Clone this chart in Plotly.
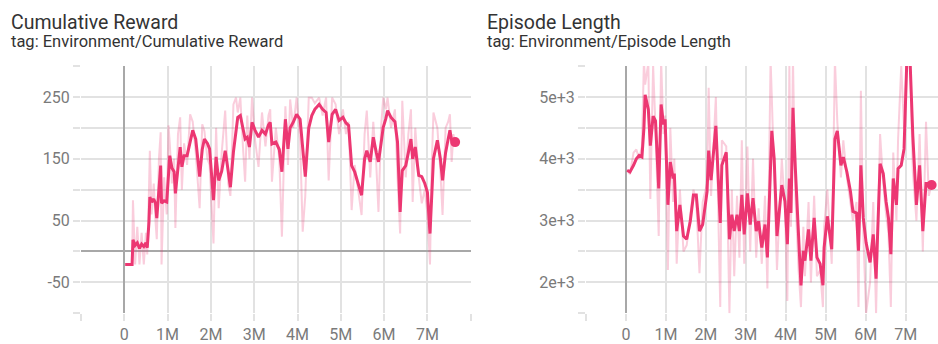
import plotly.graph_objects as go

# ---------------- data (steps in millions) ----------------
reward_steps = [0.02, 0.10, 0.18, 0.20, 0.25, 0.30, 0.35, 0.40, 0.45, 0.50, 0.53, 0.57, 0.59, 0.63, 0.68,
                0.72, 0.75, 0.80, 0.84, 0.86, 0.92, 0.98, 1.02, 1.05, 1.10, 1.15, 1.18, 1.24, 1.29, 1.33,
                1.38, 1.45, 1.52, 1.58, 1.65, 1.74, 1.80, 1.85, 1.92, 1.97, 2.02, 2.06, 2.12, 2.18, 2.25,
                2.33, 2.40, 2.45, 2.52, 2.58, 2.62, 2.68, 2.74, 2.79, 2.84, 2.89, 2.95, 3.02, 3.10, 3.18,
                3.26, 3.33, 3.37, 3.41, 3.50, 3.58, 3.64, 3.72, 3.78, 3.83, 3.90, 3.98, 4.06, 4.12, 4.18,
                4.26, 4.33, 4.40, 4.50, 4.58, 4.66, 4.72, 4.80, 4.88, 4.96, 5.05, 5.12, 5.18, 5.25, 5.32,
                5.40, 5.48, 5.55, 5.60, 5.68, 5.75, 5.82, 5.87, 5.93, 5.98, 6.04, 6.08, 6.16, 6.25, 6.31,
                6.37, 6.42, 6.50, 6.56, 6.62, 6.66, 6.72, 6.80, 6.87, 6.94, 7.00, 7.06, 7.10, 7.14, 7.23,
                7.30, 7.35, 7.42, 7.48, 7.52, 7.56, 7.60, 7.64]
reward_smoothed = [-21, -21, -21, 19, 10, 14, 5, 12, 8, 14, 6, 48, 88, 80, 85,
                   78, 54, 100, 139, 78, 82, 80, 130, 155, 135, 129, 94, 140, 169, 137,
                   155, 155, 175, 196, 182, 121, 165, 182, 175, 166, 120, 83, 153, 115, 130,
                   163, 130, 104, 161, 200, 217, 220, 200, 182, 185, 169, 209, 196, 185, 196,
                   190, 205, 209, 174, 177, 165, 129, 214, 166, 200, 209, 222, 214, 170, 121,
                   200, 220, 230, 238, 230, 225, 177, 222, 230, 212, 217, 208, 204, 139, 129,
                   110, 91, 150, 163, 145, 185, 160, 145, 175, 201, 215, 228, 217, 210, 177,
                   64, 131, 139, 160, 182, 150, 169, 123, 121, 110, 96, 29, 100, 150, 180,
                   150, 115, 160, 182, 196, 180, 178, 177]
reward_raw = [-21, -21, -21, 83, -21, 40, -21, 30, -21, 30, -5, 100, 163, 60, 110,
              50, 20, 150, 193, -21, 120, 60, 204, 175, 110, 150, 38, 190, 217, 100,
              175, 140, 222, 210, 160, 70, 206, 195, 150, 140, 60, 13, 200, 70, 160,
              228, 110, 90, 238, 249, 225, 249, 170, 113, 220, 150, 249, 180, 137, 225,
              170, 220, 230, 113, 200, 150, 24, 235, 140, 246, 200, 249, 180, 32, 90,
              249, 249, 240, 249, 220, 249, 115, 249, 238, 190, 230, 190, 210, 67, 140,
              100, 59, 190, 228, 120, 210, 140, 64, 200, 249, 230, 249, 200, 230, 120,
              29, 244, 120, 190, 230, 80, 200, 120, 78, 100, 60, -21, 140, 225, 200,
              130, 59, 200, 210, 222, 145, 190, 175]

length_steps = [0.03, 0.10, 0.19, 0.26, 0.33, 0.40, 0.45, 0.48, 0.56, 0.61, 0.68, 0.74, 0.82, 0.88, 0.94,
                0.98, 1.05, 1.11, 1.18, 1.21, 1.27, 1.35, 1.44, 1.52, 1.61, 1.69, 1.76, 1.84, 1.92, 2.03,
                2.07, 2.13, 2.25, 2.30, 2.36, 2.40, 2.51, 2.59, 2.65, 2.71, 2.78, 2.84, 2.90, 2.96, 3.04,
                3.11, 3.18, 3.26, 3.32, 3.40, 3.48, 3.54, 3.62, 3.65, 3.71, 3.78, 3.90, 3.98, 4.04, 4.09,
                4.13, 4.18, 4.24, 4.32, 4.38, 4.44, 4.48, 4.57, 4.63, 4.71, 4.78, 4.86, 4.93, 4.96, 5.04,
                5.15, 5.23, 5.29, 5.38, 5.44, 5.53, 5.62, 5.68, 5.77, 5.82, 5.88, 5.94, 6.01, 6.11, 6.19,
                6.26, 6.36, 6.44, 6.51, 6.57, 6.63, 6.69, 6.77, 6.81, 6.89, 6.96, 7.03, 7.11, 7.18, 7.27,
                7.35, 7.43, 7.51, 7.58, 7.65]
length_smoothed = [3814, 3787, 3894, 4000, 4053, 4027, 4500, 5037, 4798, 4213, 4691, 4612, 3521, 4878, 4558,
                   4638, 3255, 3947, 3681, 3761, 2830, 3255, 2750, 2697, 2989, 3415, 3415, 2830, 2936, 3468,
                   4133, 3654, 4532, 3894, 2963, 3894, 4106, 2697, 3096, 2830, 3096, 2830, 3415, 2777, 3442,
                   2936, 3362, 2830, 2989, 2564, 2936, 2404, 3800, 4452, 4000, 2750, 3574, 3309, 2617, 3681,
                   3122, 4824, 3840, 2670, 1952, 2511, 2351, 2856, 2351, 3043, 2404, 2298, 1952, 2564, 3069,
                   2537, 4319, 4452, 3894, 4027, 3787, 3468, 3149, 3122, 2511, 3894, 3043, 2644, 2324, 2777,
                   2058, 3920, 3761, 3309, 3043, 2457, 3681, 3255, 3840, 3894, 4160, 5600, 5600, 4372, 3255,
                   3894, 2830, 3601, 3600, 3575]
length_raw = [3814, 3750, 4100, 4150, 4000, 4200, 5600, 5200, 5550, 3350, 5500, 4500, 2750, 5600, 4400,
              4700, 2200, 4500, 3300, 4000, 2300, 3500, 2500, 2600, 3100, 3500, 3300, 2150, 3300, 3600,
              5150, 3400, 5000, 3200, 1600, 4300, 4200, 1500, 3500, 2100, 3400, 2400, 4300, 2300, 4200,
              2500, 4000, 2400, 3200, 2300, 3400, 1900, 5600, 5000, 3700, 2200, 4000, 3200, 1700, 5500,
              2900, 5600, 3400, 2200, 1600, 2900, 2100, 3300, 2000, 3400, 2100, 2200, 1600, 2900, 3500,
              2300, 5600, 4600, 3700, 4300, 3700, 3300, 3000, 3300, 1600, 5100, 2800, 1500, 2000, 3300,
              1500, 4400, 3600, 3100, 2800, 1600, 4100, 3000, 4300, 5500, 4500, 5600, 5600, 3800, 3000,
              4400, 2500, 4600, 3400, 3600]

x_tickvals = [-1, 0, 1, 2, 3, 4, 5, 6, 7, 8]
x_ticktext = ["", "0", "1M", "2M", "3M", "4M", "5M", "6M", "7M", ""]
reward_tickvals = [-100, -50, 0, 50, 100, 150, 200, 250, 300]
reward_ticktext = ["", "-50", "", "50", "", "150", "", "250", ""]
length_tickvals = [1500, 2000, 2500, 3000, 3500, 4000, 4500, 5000, 5500]
length_ticktext = ["", "2e+3", "", "3e+3", "", "4e+3", "", "5e+3", ""]

titles = ["Cumulative Reward", "Episode Length"]
subtitles = ["tag: Environment/Cumulative Reward", "tag: Environment/Episode Length"]

# ---------------- styling ----------------
W, H = 938, 344
MAIN = "#ec3772"
RAW = "rgba(236,55,114,0.25)"
GRID = "#e2e2e2"
ZERO = "#a8a8a8"
FONT = "Roboto"

fig = go.Figure()

def add_series(steps, raw, smooth, xa, ya):
    xs = [s * 1e6 for s in steps]
    fig.add_trace(go.Scatter(x=xs, y=raw, mode="lines", line=dict(color=RAW, width=2),
                             xaxis=xa, yaxis=ya, hoverinfo="skip", showlegend=False))
    fig.add_trace(go.Scatter(x=xs, y=smooth, mode="lines", line=dict(color=MAIN, width=3),
                             xaxis=xa, yaxis=ya, showlegend=False))
    fig.add_trace(go.Scatter(x=[xs[-1]], y=[smooth[-1]], mode="markers",
                             marker=dict(color=MAIN, size=10), xaxis=xa, yaxis=ya, showlegend=False))

add_series(reward_steps, reward_raw, reward_smoothed, "x", "y")
add_series(length_steps, length_raw, length_smoothed, "x2", "y2")

ydom = [(H - 316) / H, (H - 66.7) / H]

common_x = dict(tickvals=[v * 1e6 for v in x_tickvals], ticktext=x_ticktext,
                showgrid=True, gridcolor=GRID, gridwidth=1.5,
                zeroline=True, zerolinecolor=ZERO, zerolinewidth=1.5,
                ticks="outside", ticklen=7, tickcolor=GRID, tickwidth=1.5,
                tickfont=dict(family=FONT, size=16, color="#7a7a7a"),
                showline=False, fixedrange=True)
common_y = dict(showgrid=True, gridcolor=GRID, gridwidth=1.5,
                zeroline=True, zerolinecolor=ZERO, zerolinewidth=1.5,
                ticks="outside", ticklen=7, tickcolor=GRID, tickwidth=1.5,
                tickfont=dict(family=FONT, size=16, color="#7a7a7a"),
                showline=False, fixedrange=True, domain=ydom)

fig.update_layout(
    width=W, height=H,
    margin=dict(l=0, r=0, t=0, b=0),
    paper_bgcolor="white", plot_bgcolor="white",
    font=dict(family=FONT),
    xaxis=dict(common_x, domain=[81 / W, 470.7 / W], range=[-1e6, 8e6], anchor="y"),
    yaxis=dict(common_y, range=[-100, 300], tickvals=reward_tickvals, ticktext=reward_ticktext, anchor="x"),
    xaxis2=dict(common_x, domain=[586 / W, 1.0], range=[-1e6, 7.81e6], anchor="y2"),
    yaxis2=dict(common_y, range=[1500, 5500], tickvals=length_tickvals, ticktext=length_ticktext, anchor="x2"),
)

for i, (t, s) in enumerate(zip(titles, subtitles)):
    x0 = [9, 485][i] / W
    fig.add_annotation(text=t, x=x0, y=(H - 22.6) / H, xref="paper", yref="paper",
                       xanchor="left", yanchor="middle", showarrow=False,
                       font=dict(family=FONT, size=19.5, color="#333333"))
    fig.add_annotation(text=s, x=x0, y=(H - 42) / H, xref="paper", yref="paper",
                       xanchor="left", yanchor="middle", showarrow=False,
                       font=dict(family=FONT, size=16.5, color="#333333"))

fig.write_html("out.html", config={"displayModeBar": False},
               post_script="document.body.style.margin='0';document.body.style.overflow='hidden';")
